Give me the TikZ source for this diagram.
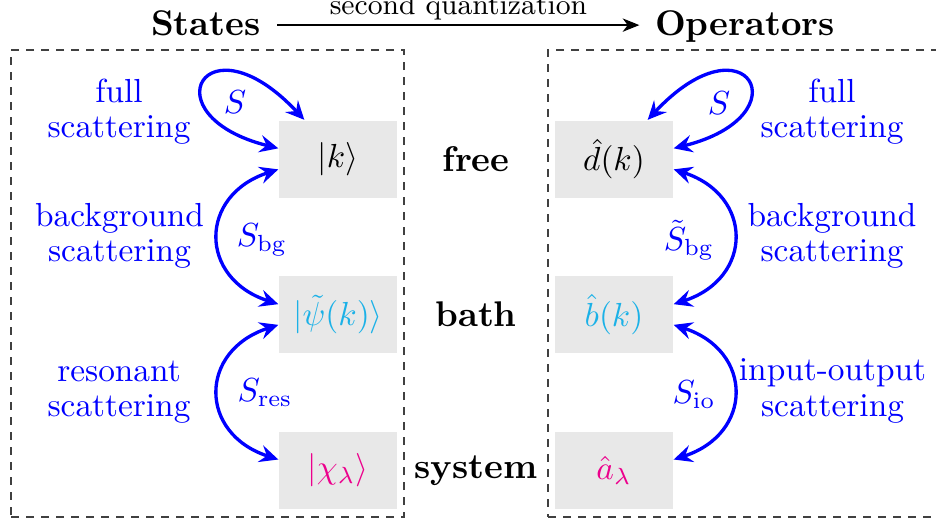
\documentclass[tikz,border=0pt]{standalone}
\usetikzlibrary{arrows.meta}
\definecolor{bathcol}{RGB}{27,177,231}
\definecolor{syscol}{RGB}{236,0,140}
\definecolor{boxgray}{RGB}{232,232,232}
\begin{document}
\begin{tikzpicture}[x=0.3pt,y=-0.3pt,
  statebox/.style={fill=boxgray, minimum width=35.4pt, minimum height=23.1pt, inner sep=0pt},
  frame/.style={draw=black!75, line width=0.45pt, dash pattern=on 2.4pt off 2.1pt, inner sep=0pt},
  blutip/.tip={Stealth[length=5.6pt,width=5.2pt,inset=2pt]},
  sarrow/.style={draw=blue, line width=1pt, blutip-blutip},
  lab/.style={text=blue, align=center, font=\fontsize{10}{10.6}\selectfont, inner sep=0pt},
  level/.style={font=\fontsize{10.7}{12}\selectfont\bfseries},
  slab/.style={text=blue, inner sep=0pt}]
\useasboundingbox (0,0) rectangle (936,521);

% frames
\node[frame, minimum width=117.9pt, minimum height=140.1pt] (lframe) at (207.5,283.5) {};
\node[frame, minimum width=119.1pt, minimum height=140.1pt] (rframe) at (746.5,283.5) {};

% titles
\node[level, anchor=base, inner sep=4.8pt] (states) at (206,35) {States};
\node[level, anchor=base, inner sep=4.5pt] (ops) at (745,35) {Operators};
\coordinate (qstart) at ([yshift=-0.7pt]states.east);
\draw[line width=0.6pt, -{Stealth[length=5pt,width=4pt,inset=1.5pt]}] (qstart) -- (qstart -| ops.west)
  node[midway, above, inner sep=1.3pt, font=\fontsize{8.66}{10}\selectfont] (sq) {second quantization};

% state boxes
\node[statebox] (k) at (338,159) {$|k\rangle$};
\node[statebox, text=bathcol] (psi) at (338,314.5) {$|\tilde\psi(k)\rangle$};
\node[statebox, text=syscol] (chi) at (338,470.5) {$|\chi_\lambda\rangle$};
\node[statebox] (d) at (614,159) {$\hat d(k)$};
\node[statebox, text=bathcol] (b) at (614,314.5) {$\hat b(k)$};
\node[statebox, text=syscol] (a) at (614,470.5) {$\hat a_\lambda$};

% level labels
\node[level] (free) at (476,159) {free};
\node[level] (bath) at (476,314.5) {bath};
\node[level] (system) at (476,470.5) {system};

% left arrows
\draw[sarrow] ([xshift=7.8pt]k.north west) to[out=133,in=166,out distance=43.5pt,in distance=40.5pt] ([yshift=3.2pt]k.west);
\draw[sarrow] ([yshift=-3.1pt]k.west) to[out=198,in=162,distance=25.2pt] ([yshift=3.1pt]psi.west);
\draw[sarrow] ([yshift=-3.1pt]psi.west) to[out=198,in=162,distance=25.2pt] ([yshift=3.3pt]chi.west);

% right arrows
\draw[sarrow] ([xshift=-7.8pt]d.north east) to[out=47,in=14,out distance=43.5pt,in distance=40.5pt] ([yshift=3.2pt]d.east);
\draw[sarrow] ([yshift=-3.1pt]d.east) to[out=-18,in=18,distance=25.2pt] ([yshift=3.1pt]b.east);
\draw[sarrow] ([yshift=-3.1pt]b.east) to[out=-18,in=18,distance=25.2pt] ([yshift=3.3pt]a.east);

% arrow labels
\node[slab] (sl) at (235,102) {$S$};
\node[slab] (sbg) at (262,240) {$S_{\mathrm{bg}}$};
\node[slab] (sres) at (265,393) {$S_{\mathrm{res}}$};
\node[slab] (sr) at (719,103) {$S$};
\node[slab] (stbg) at (689,240) {$\tilde S_{\mathrm{bg}}$};
\node[slab] (sio) at (694,395) {$S_{\mathrm{io}}$};

% descriptive labels
\node[lab] (lfull) at (119,112) {full\\scattering};
\node[lab] (lbg) at (119.5,236) {background\\scattering};
\node[lab] (lres) at (119,392) {resonant\\scattering};
\node[lab] (rfull) at (832,112) {full\\scattering};
\node[lab] (rbg) at (832,236) {background\\scattering};
\node[lab] (rio) at (832.5,391) {input-output\\scattering};
\end{tikzpicture}
\end{document}
